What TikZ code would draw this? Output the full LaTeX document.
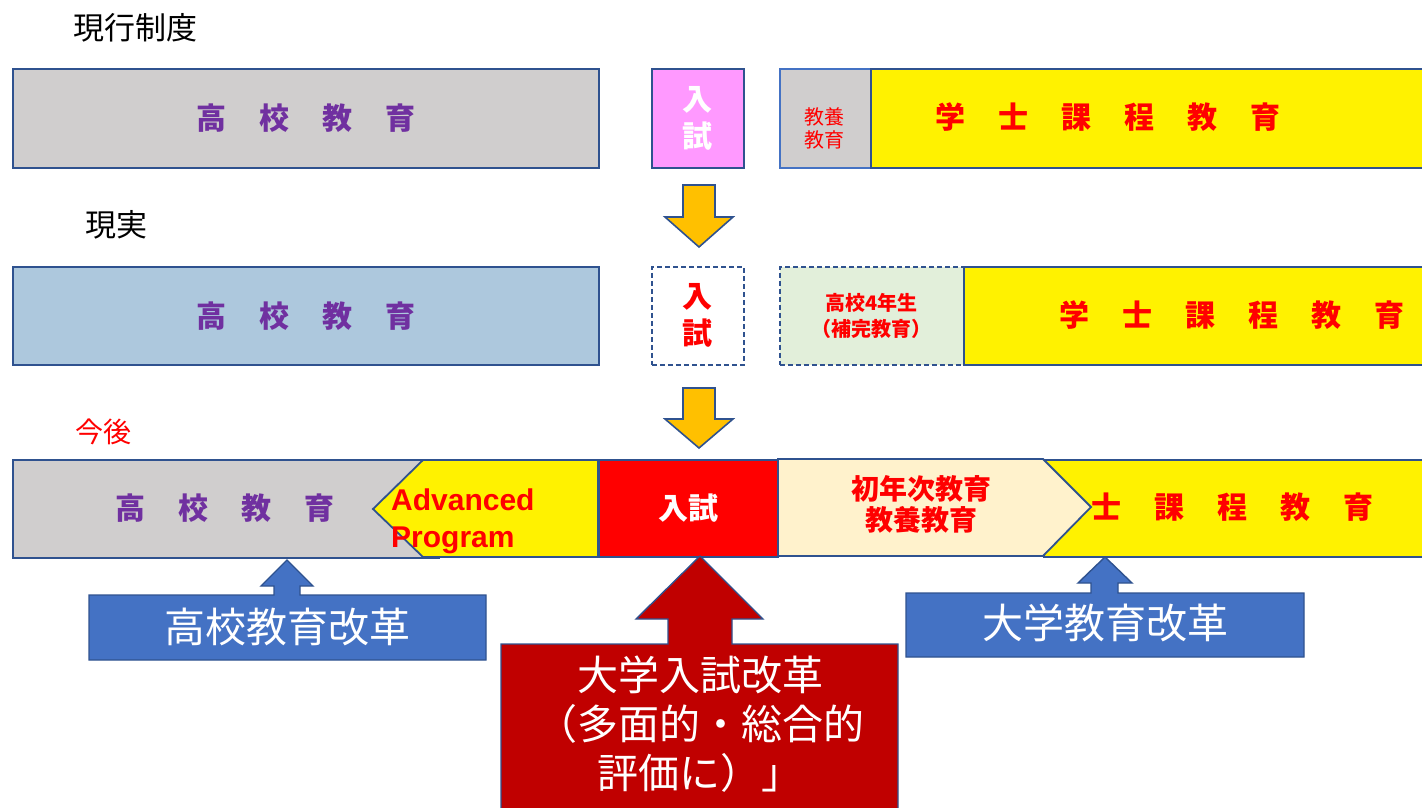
\documentclass[tikz,border=0pt]{standalone}
\usepackage{fontspec}
\setmainfont{Noto Sans CJK JP}
\newfontfamily\arialfont{Liberation Sans}
\definecolor{edge}{HTML}{2F528F}
\definecolor{boxgray}{HTML}{D0CECE}
\definecolor{jpurple}{HTML}{7030A0}
\definecolor{pinkfill}{HTML}{FF99FF}
\definecolor{steel}{HTML}{ADC8DD}
\definecolor{lgreen}{HTML}{E2EFDA}
\definecolor{cream}{HTML}{FFF2CC}
\definecolor{amber}{HTML}{FFC000}
\definecolor{cblue}{HTML}{4472C4}
\definecolor{dred}{HTML}{C00000}
\newcommand\jgap{\hspace{33pt}}
\newcommand\fs[2]{\fontsize{#1}{#2}\selectfont}
\begin{document}
\begin{tikzpicture}[x=1pt,y=-1pt,
  blk/.style={draw=edge, line width=1.8pt, inner sep=0pt, anchor=north west},
  dashblk/.style={blk, dash pattern=on 5pt off 3pt},
  rowtxt/.style={font=\fs{30}{36}\bfseries, inner sep=0pt},
  extxt/.style={font=\fs{30}{37}\bfseries, align=center},
  lbl/.style={font=\fs{31}{36}, inner sep=0pt},
  pent/.style={draw=edge, line width=1.8pt, line join=miter},
  callout/.style={draw=edge, line width=1.4pt, line join=miter},
  calltxt/.style={font=\fs{41}{49}, text=white, inner sep=0pt, align=center},
  advtxt/.style={font=\arialfont\fs{30}{36}\bfseries, text=red, anchor=base west, inner sep=0pt},
  downarrow/.style={draw=edge, line width=1.6pt, fill=amber, line join=miter}
]
\useasboundingbox (0,0) rectangle (1422,808);

% headings
\node[lbl] (h1) at (135,28) {現行制度};
\node[lbl] (h2) at (116,225) {現実};
\node[lbl, font=\fs{28}{32}, text=red] (h3) at (103,432) {今後};

% row 1
\node[blk, fill=boxgray, minimum width=586pt, minimum height=99pt, rowtxt, text=jpurple] (hs1) at (12,68) {高\jgap 校\jgap 教\jgap 育};
\node[blk, fill=pinkfill, minimum width=92pt, minimum height=99pt, extxt, text=white] (ex1) at (651,68) {入\\試};
\node[blk, draw=cblue, fill=boxgray, minimum width=91pt, minimum height=99pt] (ge1) at (779,68) {};
\node[font=\fs{20}{23}, text=red, align=center, inner sep=0pt] (ge1t) at (824,128) {教養\\教育};
\node[blk, fill=yellow, minimum width=560pt, minimum height=99pt] (bc1) at (870,68) {};
\node[rowtxt, text=red] (bc1t) at (1108,117) {学\jgap 士\jgap 課\jgap 程\jgap 教\jgap 育};

% arrow 1
\draw[downarrow] (683,185) -- (715,185) -- (715,217) -- (733,217) -- (699,247) -- (665,217) -- (683,217) -- cycle;

% row 2
\node[blk, fill=steel, minimum width=586pt, minimum height=98pt, rowtxt, text=jpurple] (hs2) at (12,266) {高\jgap 校\jgap 教\jgap 育};
\node[dashblk, fill=white, minimum width=92pt, minimum height=98pt, extxt, text=red] (ex2) at (651,266) {入\\試};
\node[dashblk, fill=lgreen, minimum width=184pt, minimum height=98pt, font=\fs{20}{26}\bfseries, text=red, align=center] (h4) at (779,266) {高校4年生\\（補完教育）};
\node[blk, fill=yellow, minimum width=470pt, minimum height=98pt] (bc2) at (963,266) {};
\node[rowtxt, text=red] (bc2t) at (1232,315) {学\jgap 士\jgap 課\jgap 程\jgap 教\jgap 育};

% arrow 2
\draw[downarrow] (683,388) -- (715,388) -- (715,419) -- (733,419) -- (699,448) -- (665,419) -- (683,419) -- cycle;

% row 3
\node[blk, fill=boxgray, minimum width=426pt, minimum height=98pt] (hs3) at (12,459) {};
\node[rowtxt, text=jpurple] (hs3t) at (225,508) {高\jgap 校\jgap 教\jgap 育};
\draw[pent, fill=yellow] (598,460) -- (423,460) -- (373,509) -- (423,557) -- (598,557) -- cycle;
\node[advtxt] (adv1) at (391,510) {Advanced};
\node[advtxt] (adv2) at (391,547) {Program};
\node[blk, fill=red, minimum width=179pt, minimum height=97pt, font=\fs{30}{36}\bfseries, text=white] (ex3) at (598,459) {入試};
\node[blk, fill=yellow, minimum width=390pt, minimum height=97pt] (bc3) at (1043,459) {};
\draw[pent, fill=cream] (778,459) -- (1043,459) -- (1091,507) -- (1043,556) -- (778,556) -- cycle;
\node[font=\fs{28}{31}\bfseries, text=red, align=center, inner sep=0pt] (fy) at (921,504) {初年次教育\\教養教育};
\node[rowtxt, text=red] (bc3t) at (1232,507) {士\jgap 課\jgap 程\jgap 教\jgap 育};

% callouts
\draw[callout, fill=cblue] (89,660) -- (89,595) -- (274,595) -- (274,586) -- (261,586) -- (287,560) -- (313,586) -- (300,586) -- (300,595) -- (486,595) -- (486,660) -- cycle;
\node[calltxt] (r1) at (287,627) {高校教育改革};

\draw[callout, fill=cblue] (906,657) -- (906,593) -- (1091,593) -- (1091,583) -- (1078,583) -- (1105,557) -- (1132,583) -- (1118,583) -- (1118,593) -- (1304,593) -- (1304,657) -- cycle;
\node[calltxt] (r2) at (1105,623) {大学教育改革};

\draw[callout, fill=dred] (501,815) -- (501,644) -- (668,644) -- (668,619) -- (636,619) -- (700,556) -- (763,619) -- (732,619) -- (732,644) -- (898,644) -- (898,815) -- cycle;
\node[calltxt] (r3) at (700,724) {大学入試改革\\（多面的・総合的\\評価に）」};
\end{tikzpicture}
\end{document}
